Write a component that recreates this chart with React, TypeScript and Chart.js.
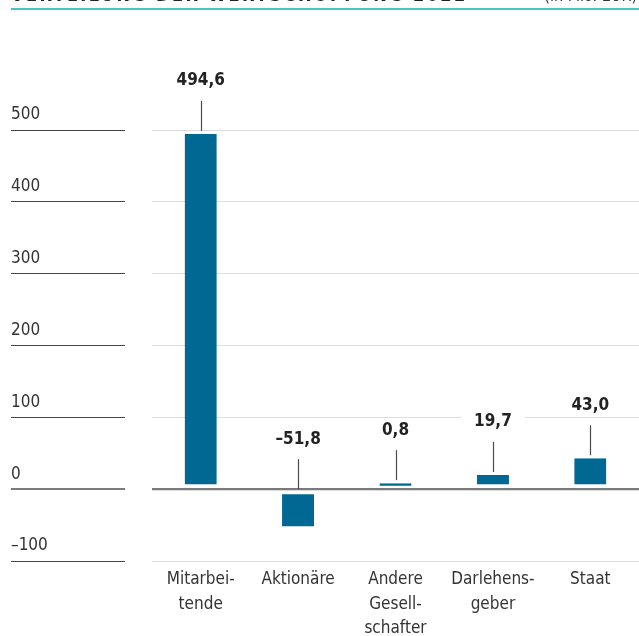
import React, { useEffect, useRef } from "react";
import { Chart, registerables } from "chart.js";

Chart.register(...registerables);

const title = "VERTEILUNG DER WERTSCHÖPFUNG 2022";
const unit = "(in Mio. EUR)";
const categories: (string | string[])[] = [
  ["Mitarbei-", "tende"],
  "Aktionäre",
  ["Andere", "Gesell-", "schafter"],
  ["Darlehens-", "geber"],
  "Staat",
];
const values = [494.6, -51.8, 0.8, 19.7, 43.0];
const valueLabels = ["494,6", "–51,8", "0,8", "19,7", "43,0"];
const yMin = -100;
const yMax = 500;
const yStep = 100;

const FONT = "'DejaVu Sans Condensed', 'Liberation Sans Narrow', 'Roboto Condensed', 'Open Sans', sans-serif";
const BAR = "#006892";

const overlay = {
  id: "overlay",
  afterDatasetsDraw(chart: any) {
    const ctx = chart.ctx as CanvasRenderingContext2D;
    const { left, right } = chart.chartArea;
    const ys = chart.scales.y;
    const zero = ys.getPixelForValue(0);
    ctx.save();
    ctx.strokeStyle = "#7a7a7a";
    ctx.lineWidth = 2;
    ctx.beginPath();
    ctx.moveTo(left, zero);
    ctx.lineTo(right, zero);
    ctx.stroke();

    const meta = chart.getDatasetMeta(0);
    meta.data.forEach((el: any, i: number) => {
      const v = values[i];
      const bottom = v >= 0 ? el.y - 3 : zero;
      const top = bottom - 30;
      const x = Math.round(el.x) + 0.5;
      ctx.strokeStyle = "#4a4a4a";
      ctx.lineWidth = 1.2;
      ctx.beginPath();
      ctx.moveTo(x, top);
      ctx.lineTo(x, bottom);
      ctx.stroke();
      const ty = top - 20;
      ctx.font = `bold 17px ${FONT}`;
      const w = ctx.measureText(valueLabels[i]).width;
      ctx.fillStyle = "#fff";
      ctx.fillRect(el.x - w / 2 - 13, ty - 11, w + 26, 22);
      ctx.fillStyle = "#222";
      ctx.textAlign = "center";
      ctx.textBaseline = "middle";
      ctx.fillText(valueLabels[i], el.x, ty);
    });
    ctx.restore();
  },
  afterDraw(chart: any) {
    const ctx = chart.ctx as CanvasRenderingContext2D;
    ctx.save();
    ctx.strokeStyle = "#45c8ba";
    ctx.lineWidth = 2;
    ctx.beginPath();
    ctx.moveTo(11, 9);
    ctx.lineTo(chart.width, 9);
    ctx.stroke();
    ctx.fillStyle = "#222";
    ctx.textBaseline = "alphabetic";
    ctx.textAlign = "left";
    ctx.font = `bold 18px ${FONT}`;
    (ctx as any).letterSpacing = "2.4px";
    ctx.fillText(title, 11, 0.5);
    (ctx as any).letterSpacing = "0px";
    ctx.textAlign = "right";
    ctx.font = `16px ${FONT}`;
    ctx.fillStyle = "#333";
    ctx.fillText(unit, chart.width - 2, 0.5);
    ctx.restore();
  },
};

export default function App() {
  const ref = useRef<HTMLCanvasElement>(null);
  useEffect(() => {
    document.body.style.margin = "0";
    if (!ref.current) return;
    const chart = new Chart(ref.current, {
      type: "bar",
      data: {
        labels: categories as any,
        datasets: [
          {
            data: values,
            backgroundColor: BAR,
            borderColor: "#ffffff",
            borderSkipped: false,
            borderWidth: (c: any) =>
              c.raw >= 0
                ? { top: 0, left: 0, right: 0, bottom: 4 }
                : { top: 4, left: 0, right: 0, bottom: 0 },
            minBarLength: 6,
            barPercentage: 0.33,
            categoryPercentage: 1,
          } as any,
        ],
      },
      options: {
        animation: false,
        responsive: true,
        maintainAspectRatio: false,
        layout: { padding: { left: 11, top: 130, right: 0, bottom: 0 } },
        plugins: {
          legend: { display: false },
          tooltip: { enabled: false },
          title: { display: false },
        },
        scales: {
          x: {
            border: { display: false },
            grid: { display: false, drawTicks: false },
            ticks: {
              color: "#333",
              padding: 7,
              maxRotation: 0,
              autoSkip: false,
              font: { family: FONT, size: 17, lineHeight: 1.42 },
            },
            afterFit: (s: any) => {
              s.height = 75;
            },
          },
          y: {
            min: yMin,
            max: yMax,
            border: { display: false },
            grid: {
              color: (c: any) => (c.tick && c.tick.value === 0 ? "#7a7a7a" : "#dedede"),
              lineWidth: (c: any) => (c.tick && c.tick.value === 0 ? 2 : 1),
              tickColor: (c: any) => (c.tick && c.tick.value === 0 ? "#7a7a7a" : "#444"),
              tickWidth: (c: any) => (c.tick && c.tick.value === 0 ? 2 : 1),
              tickLength: 141,
              tickBorderDash: [114, 600],
              drawTicks: true,
            } as any,
            ticks: {
              stepSize: yStep,
              color: "#333",
              crossAlign: "far",
              labelOffset: -15,
              font: { family: FONT, size: 17 },
              callback: (v: any) => (v < 0 ? "–" + Math.abs(v) : String(v)),
            },
            afterFit: (s: any) => {
              s.width = 141;
            },
          },
        },
      },
      plugins: [overlay],
    });
    return () => chart.destroy();
  }, []);
  return (
    <div style={{ width: 639, height: 636, position: "relative" }}>
      <canvas ref={ref} />
    </div>
  );
}
